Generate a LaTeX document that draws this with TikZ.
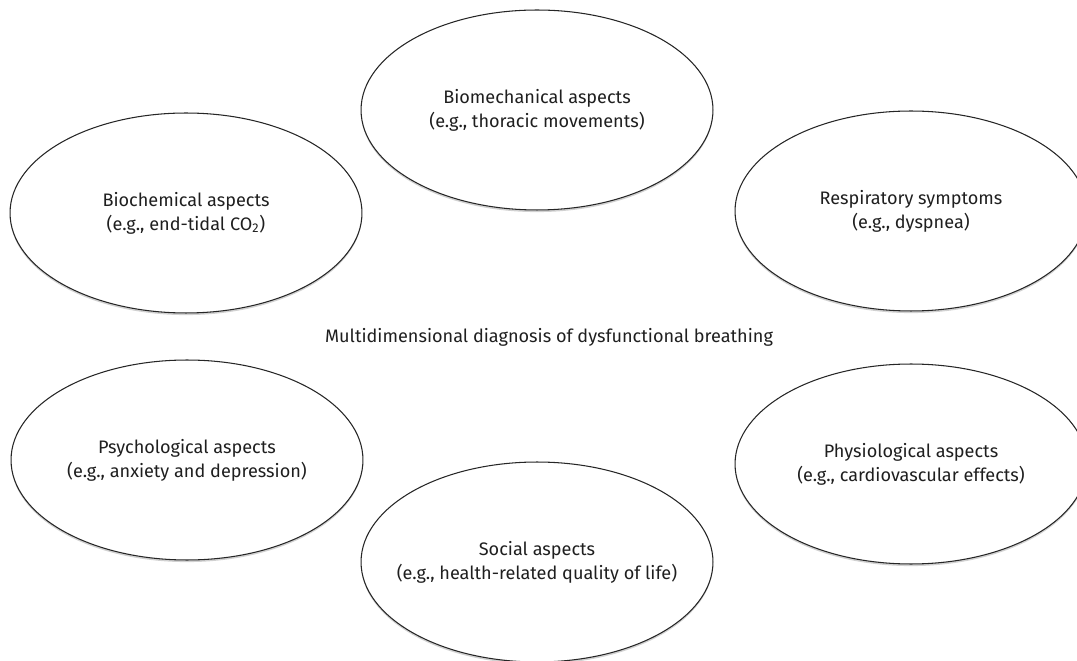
\documentclass[tikz,border=0pt]{standalone}
\usepackage{fontspec}
\setmainfont{Fira Sans}
\usetikzlibrary{shapes.geometric,shadows}

\tikzset{
  aspect/.style={ellipse, draw=black!85, line width=0.6pt, fill=white,
    minimum width=7.04cm, minimum height=4cm, align=center,
    inner xsep=-2cm, inner ysep=0pt,
    text=black!88, font=\fontsize{10.3}{13.7}\selectfont,
    drop shadow={fill=black!60, opacity=0.3, shadow xshift=0pt, shadow yshift=-1.2pt}},
  centrelabel/.style={text=black!88, font=\fontsize{10.3}{13.7}\selectfont}
}

\begin{document}
\begin{tikzpicture}[x=0.02cm, y=-0.02cm]

\path[use as bounding box, clip] (0,0) rectangle (1077,661);

% the six aspects round the diagnosis
\node[aspect] (biomech) at (537,110) {Biomechanical aspects\\(e.g., thoracic movements)};
\node[aspect] (biochem) at (186,213) {Biochemical aspects\\(e.g., end-tidal CO\textsubscript{2})};
\node[aspect] (resp) at (911,211) {Respiratory symptoms\\(e.g., dyspnea)};
\node[aspect] (psych) at (187,460) {Psychological aspects\\(e.g., anxiety and depression)};
\node[aspect] (physio) at (911,464) {Physiological aspects\\(e.g., cardiovascular effects)};
\node[aspect] (social) at (537,562) {Social aspects\\(e.g., health-related quality of life)};

\node[centrelabel] (diag) at (549,337) {Multidimensional diagnosis of dysfunctional breathing};

\end{tikzpicture}
\end{document}
